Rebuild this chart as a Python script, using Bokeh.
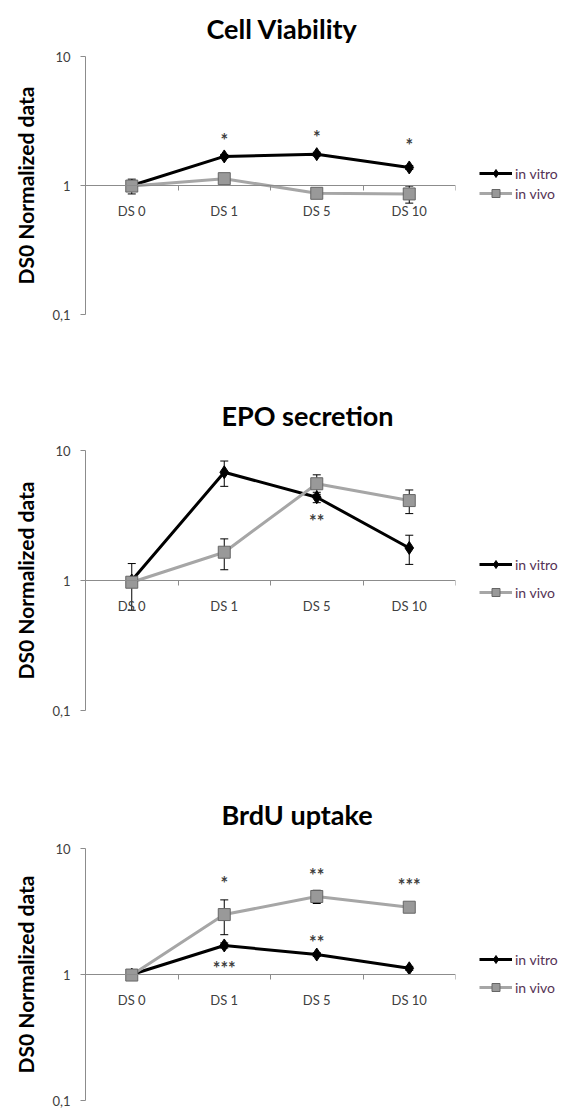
from bokeh.plotting import figure
from bokeh.models import (Range1d, LinearAxis, FixedTicker, Whisker, ColumnDataSource,
                          Legend, LegendItem, Title, TeeHead)
from bokeh.layouts import column
from bokeh.core.properties import value
from bokeh.embed import file_html
from bokeh.resources import INLINE

# ---------------- data ----------------
categories = ["DS 0", "DS 1", "DS 5", "DS 10"]
y_ticks = [0.1, 1, 10]
y_tick_labels = ["0,1", "1", "10"]
series_names = ["in vitro", "in vivo"]
titles = ["Cell Viability", "EPO secretion", "BrdU uptake"]
y_label = "DS0 Normalized data"

via_vitro = [1.0, 1.68, 1.75, 1.38]
via_vitro_err = [0.03, 0.06, 0.06, 0.05]
via_vivo = [0.99, 1.13, 0.87, 0.86]
via_vivo_err = [0.13, 0.05, 0.04, 0.13]
via_star_text = ["*", "*", "*"]
via_star_cat = ["DS 1", "DS 5", "DS 10"]
via_star_y = [2.48, 2.58, 2.26]

epo_vitro = [1.0, 6.8, 4.37, 1.78]
epo_vitro_err = [0.0, 1.5, 0.4, 0.45]
epo_vivo = [0.97, 1.65, 5.55, 4.12]
epo_vivo_err = [0.38, 0.44, 0.95, 0.85]
epo_star_text = ["**"]
epo_star_cat = ["DS 5"]
epo_star_y = [3.16]

brdu_vitro = [1.0, 1.70, 1.44, 1.12]
brdu_vitro_err = [0.03, 0.08, 0.05, 0.04]
brdu_vivo = [0.99, 2.99, 4.16, 3.42]
brdu_vivo_err = [0.05, 0.92, 0.5, 0.08]
brdu_star_text = ["*", "**", "***", "**", "***"]
brdu_star_cat = ["DS 1", "DS 5", "DS 10", "DS 5", "DS 1"]
brdu_star_y = [5.78, 6.8, 5.67, 1.97, 1.24]

# ---------------- styling / layout ----------------
FONT = "Lato"
AXIS_GRAY = "#8c8c8c"
TEXT_GRAY = "#404040"
LEGEND_TEXT = "#553355"
VITRO_COLOR = "#000000"
VIVO_LINE = "#a6a6a6"
VIVO_FILL = "#999999"
VIVO_EDGE = "#666666"

FRAME_W = 370
BORDER_L = 85
BORDER_R = 563 - BORDER_L - FRAME_W

panels = [
    dict(title=titles[0], vitro=via_vitro, vitro_err=via_vitro_err, vivo=via_vivo, vivo_err=via_vivo_err,
         st=via_star_text, sc=via_star_cat, sy=via_star_y,
         frame_h=258, top=56, bottom=65, title_off=121, title_s=20, leg_gap=0, leg_y=111),
    dict(title=titles[1], vitro=epo_vitro, vitro_err=epo_vitro_err, vivo=epo_vivo, vivo_err=epo_vivo_err,
         st=epo_star_text, sc=epo_star_cat, sy=epo_star_y,
         frame_h=260, top=71, bottom=69, title_off=136, title_s=34, leg_gap=8, leg_y=108),
    dict(title=titles[2], vitro=brdu_vitro, vitro_err=brdu_vitro_err, vivo=brdu_vivo, vivo_err=brdu_vivo_err,
         st=brdu_star_text, sc=brdu_star_cat, sy=brdu_star_y,
         frame_h=252, top=69, bottom=9, title_off=136, title_s=32, leg_gap=8, leg_y=103),
]

xpos = [i + 0.5 for i in range(len(categories))]
cat_x = dict(zip(categories, xpos))

figs = []
for pn in panels:
    p = figure(frame_width=FRAME_W, frame_height=pn["frame_h"],
               x_range=Range1d(0, len(categories)), y_range=Range1d(y_ticks[0], y_ticks[-1]),
               y_axis_type="log", x_axis_location=None, y_axis_location=None,
               output_backend="svg", toolbar_location=None,
               min_border_left=BORDER_L, min_border_right=BORDER_R,
               min_border_top=pn["top"], min_border_bottom=pn["bottom"])
    p.outline_line_color = None
    p.xgrid.visible = False
    p.ygrid.visible = False
    p.background_fill_color = "white"

    p.title = Title(text=pn["title"], align="left", offset=pn["title_off"],
                    vertical_align="top",
                    text_font=FONT, text_font_style="bold", text_font_size="27px",
                    text_color="#000000", standoff=pn["title_s"])

    # y axis (log)
    yax = LinearAxis(ticker=FixedTicker(ticks=y_ticks),
                     major_label_overrides={t: l for t, l in zip(y_ticks, y_tick_labels)},
                     axis_label=y_label)
    yax.axis_line_color = AXIS_GRAY
    yax.major_tick_line_color = AXIS_GRAY
    yax.major_tick_out = 5
    yax.major_tick_in = 0
    yax.minor_tick_line_color = None
    yax.major_label_text_font = FONT
    yax.major_label_text_font_size = "13px"
    yax.major_label_text_color = TEXT_GRAY
    yax.major_label_standoff = 10
    yax.axis_label_text_font = FONT
    yax.axis_label_text_font_style = "bold"
    yax.axis_label_text_font_size = "21px"
    yax.axis_label_text_color = "#000000"
    yax.axis_label_standoff = 11
    p.add_layout(yax, "left")

    # x axis crossing at y = 1
    xax = LinearAxis(ticker=FixedTicker(ticks=xpos, minor_ticks=list(range(len(categories) + 1))),
                     major_label_overrides={x: c for x, c in zip(xpos, categories)},
                     fixed_location=1)
    xax.axis_line_color = AXIS_GRAY
    xax.major_tick_line_color = None
    xax.major_tick_out = 0
    xax.major_tick_in = 0
    xax.minor_tick_line_color = AXIS_GRAY
    xax.minor_tick_out = 5
    xax.minor_tick_in = 0
    xax.major_label_text_font = FONT
    xax.major_label_text_font_size = "13px"
    xax.major_label_text_color = TEXT_GRAY
    xax.major_label_standoff = 12
    p.add_layout(xax, "below")

    # error bars
    for vals, errs in ((pn["vitro"], pn["vitro_err"]), (pn["vivo"], pn["vivo_err"])):
        src = ColumnDataSource(dict(x=xpos,
                                    upper=[v + e for v, e in zip(vals, errs)],
                                    lower=[v - e for v, e in zip(vals, errs)]))
        w = Whisker(source=src, base="x", upper="upper", lower="lower", dimension="height",
                    line_color="black", line_width=1,
                    upper_head=TeeHead(size=8, line_color="black", line_width=1),
                    lower_head=TeeHead(size=8, line_color="black", line_width=1))
        p.add_layout(w)

    l1 = p.line(xpos, pn["vitro"], line_color=VITRO_COLOR, line_width=3)
    s1 = p.scatter(xpos, pn["vitro"], marker="diamond", size=13,
                   fill_color=VITRO_COLOR, line_color=VITRO_COLOR)
    l2 = p.line(xpos, pn["vivo"], line_color=VIVO_LINE, line_width=3)
    s2 = p.scatter(xpos, pn["vivo"], marker="square", size=12,
                   fill_color=VIVO_FILL, line_color=VIVO_EDGE, line_width=1)

    # significance stars
    p.text([cat_x[c] for c in pn["sc"]], pn["sy"], text=pn["st"],
           text_font=value(FONT), text_font_size=value("18px"), text_font_style="bold",
           text_color=TEXT_GRAY, text_align="center", text_baseline="middle", y_offset=5)

    legend = Legend(items=[LegendItem(label=series_names[0], renderers=[l1, s1]),
                           LegendItem(label=series_names[1], renderers=[l2, s2])],
                    location=(24, pn["leg_y"]), orientation="vertical",
                    glyph_width=33, glyph_height=20, label_height=20,
                    label_standoff=3, spacing=pn["leg_gap"], padding=0, margin=0,
                    border_line_color=None, background_fill_alpha=0,
                    label_text_font=FONT, label_text_font_size="14px",
                    label_text_color=LEGEND_TEXT)
    p.add_layout(legend, "right")
    figs.append(p)

layout = column(*figs, spacing=0)
open("out.html", "w").write(file_html(layout, INLINE))
